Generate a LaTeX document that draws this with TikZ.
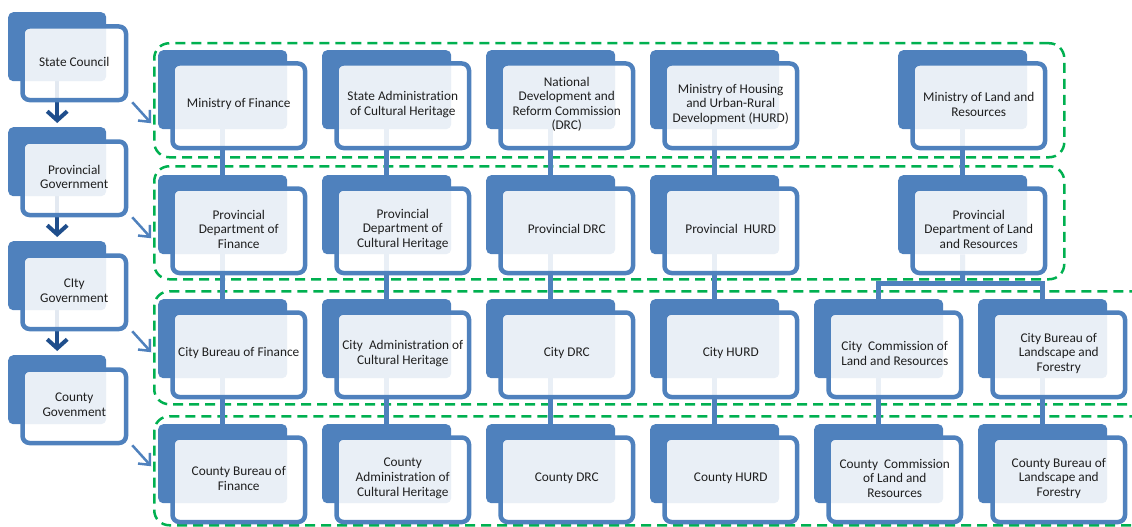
\documentclass[tikz,border=0pt]{standalone}
\usepackage{fontspec}
\setmainfont{Carlito}[Ligatures={NoCommon,NoContextual}]
\usetikzlibrary{arrows.meta}
\definecolor{bblue}{HTML}{4F81BD}
\definecolor{dblue}{HTML}{1F4E8C}
\definecolor{ggreen}{HTML}{00B050}
\pgfdeclarelayer{bg}
\pgfsetlayers{bg,main}
\tikzset{
 backbox/.style={fill=bblue, rounded corners=5pt, anchor=north west, inner sep=0pt, minimum width=129pt, minimum height=79pt},
 framebox/.style={draw=bblue, line width=4.5pt, fill=white, fill opacity=0.88, rounded corners=7pt, anchor=north west, inner sep=0pt, minimum width=132.5pt, minimum height=84.5pt},
 lbackbox/.style={backbox, minimum width=98pt, minimum height=69pt},
 lframebox/.style={framebox, minimum width=103.5pt, minimum height=73.5pt},
 lbl/.style={align=center, font=\fontsize{13.3}{14.6}\selectfont, text=black!88, inner sep=0pt, yshift=1.5pt},
 group/.style={draw=ggreen, line width=2.5pt, dash pattern=on 10pt off 6pt, rounded corners=15pt, anchor=north west, inner sep=0pt},
 link/.style={draw=bblue, line width=5pt},
 down/.style={draw=dblue, line width=4pt, -{Straight Barb[length=9pt,width=20pt]}},
 chev/.style={draw=bblue, line width=2.5pt, -{Straight Barb[length=9pt,width=16pt]}}
}
\newcommand\rbox[4]{%
 \node[backbox] (#1) at (#2,#3) {};
 \node[framebox] (#1f) at ({#2+12.25},{#3+11.25}) {};
 \node[lbl] (#1t) at (#1f.center) {#4};
}
\newcommand\lbox[3]{%
 \node[lbackbox] (#1) at (8,#2) {};
 \node[lframebox] (#1f) at (20.25,{#2+12.25}) {};
 \node[lbl] (#1t) at (#1f.center) {#3};
}
\begin{document}
\begin{tikzpicture}[x=1pt,y=-1pt]
\clip (0,0) rectangle (1132,527);
% left column
\lbox{sc}{12}{State Council}
\lbox{pg}{127}{Provincial\\Government}
\lbox{cg}{241}{CIty\\Government}
\lbox{kg}{355}{County\\Govenment}
% row 1
\rbox{mf}{158}{50}{Ministry of Finance}
\rbox{sa}{322}{50}{State Administration\\of Cultural Heritage}
\rbox{nd}{486}{50}{National\\Development and\\Reform Commission\\(DRC)}
\rbox{mh}{650}{50}{Ministry of Housing\\and Urban-Rural\\Development (HURD)}
\rbox{ml}{898}{50}{Ministry of Land and\\Resources}
% row 2
\rbox{pf}{158}{175}{Provincial\\Department of\\Finance}
\rbox{pc}{322}{175}{Provincial\\Department of\\Cultural Heritage}
\rbox{pd}{486}{175}{Provincial DRC}
\rbox{ph}{650}{175}{Provincial\ \ HURD}
\rbox{pl}{898}{175}{Provincial\\Department of Land\\and Resources}
% row 3
\rbox{cf}{158}{299}{City Bureau of Finance}
\rbox{cc}{322}{299}{City\ \ Administration of\\Cultural Heritage}
\rbox{cd}{486}{299}{City DRC}
\rbox{ch}{650}{299}{City HURD}
\rbox{cl}{814}{299}{City\ \ Commission of\\Land and Resources}
\rbox{cb}{978}{299}{City Bureau of\\Landscape and\\Forestry}
% row 4
\rbox{kf}{158}{424}{County Bureau of\\Finance}
\rbox{kc}{322}{424}{County\\Administration of\\Cultural Heritage}
\rbox{kd}{486}{424}{County DRC}
\rbox{kh}{650}{424}{County HURD}
\rbox{kl}{814}{424}{County\ \ Commission\\of Land and\\Resources}
\rbox{kb}{978}{424}{County Bureau of\\Landscape and\\Forestry}
\coordinate (split) at (962.5,283);
\begin{pgfonlayer}{bg}
 \node[group, minimum width=910pt, minimum height=114pt] (g1) at (153,42) {};
 \node[group, minimum width=910pt, minimum height=113pt] (g2) at (153,165) {};
 \node[group, minimum width=1000pt, minimum height=113pt] (g3) at (153,290) {};
 \node[group, minimum width=1000pt, minimum height=109pt] (g4) at (153,415) {};
 % connectors
 \foreach \a/\b in {mf/pf, sa/pc, nd/pd, mh/ph, ml/pl, pf/cf, pc/cc, pd/cd, ph/ch, cf/kf, cc/kc, cd/kd, ch/kh, cl/kl, cb/kb}
   \draw[link] (\a.south) -- (\b.north);
 \draw[link] (pl.south) -- (split);
 \draw[link] (cl.north) |- (split) -| (cb.north);
 % left arrows
 \foreach \a/\b in {sc/pg, pg/cg, cg/kg}
   \draw[down] (\a.south) -- ([yshift=4pt]\b.north);
\end{pgfonlayer}
\foreach \a in {sc,pg,cg,kg}
  \draw[chev] ([xshift=4pt]\a f.south east) -- ++(19,21);
\end{tikzpicture}
\end{document}
